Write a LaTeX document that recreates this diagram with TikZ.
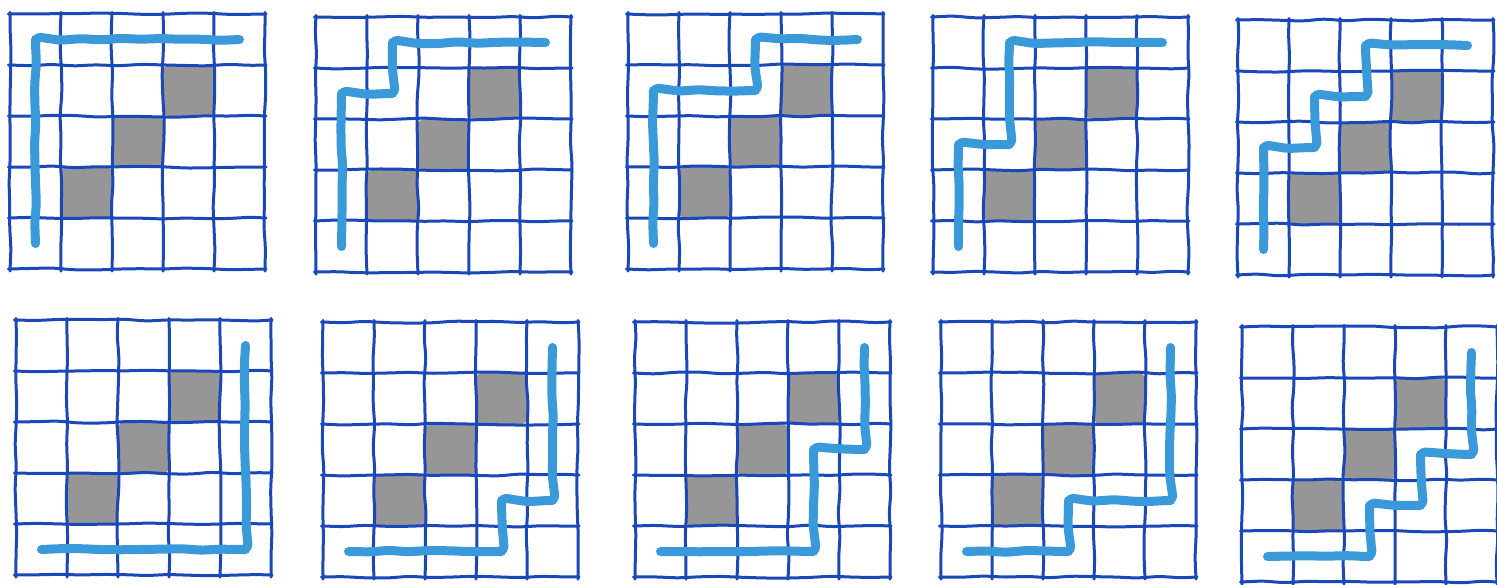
\documentclass[tikz,border=0pt]{standalone}
\usetikzlibrary{decorations.pathmorphing}

\definecolor{inkblue}{RGB}{26,72,184}
\definecolor{penblue}{RGB}{58,154,217}
\definecolor{blockgray}{RGB}{150,150,150}

% one 5x5 panel: bottom-left corner, then the route through the cells
\newcommand{\panel}[3]{%
  \begin{scope}[shift={(#1,#2)}, x=51pt, y=51pt]
    % blocked cells on the diagonal
    \foreach \c in {1,2,3}
      \fill[blocked] (\c,\c) rectangle (\c+1,\c+1);
    % grid lines
    \foreach \i in {0,...,5} {
      \draw[gridline] (\i,-0.04) -- (\i,5.03);
      \draw[gridline] (-0.03,\i) -- (5.02,\i);
    }
    % route
    \draw[route] #3;
  \end{scope}}

\begin{document}
\begin{tikzpicture}[x=1pt, y=-1pt,
    gridline/.style={inkblue, line width=3pt, line cap=round,
      decorate, decoration={random steps, segment length=22pt, amplitude=1.1pt},
      rounded corners=6pt},
    blocked/.style={blockgray, rounded corners=6pt},
    route/.style={penblue, line width=9pt, line cap=round, line join=round,
      decorate, decoration={random steps, segment length=20pt, amplitude=1.2pt},
      rounded corners=5pt}]
  \pgfmathsetseed{4711}
  \useasboundingbox (0,0) rectangle (1497,584);

  % top row
  \panel{10}{269}{(.5,.5) -- (.5,4.5) -- (4.5,4.5)}
  \panel{316}{272}{(.5,.5) -- (.5,3.5) -- (1.5,3.5) -- (1.5,4.5) -- (4.5,4.5)}
  \panel{628}{269}{(.5,.5) -- (.5,3.5) -- (2.5,3.5) -- (2.5,4.5) -- (4.5,4.5)}
  \panel{933}{272}{(.5,.5) -- (.5,2.5) -- (1.5,2.5) -- (1.5,4.5) -- (4.5,4.5)}
  \panel{1238}{275}{(.5,.5) -- (.5,2.5) -- (1.5,2.5) -- (1.5,3.5) -- (2.5,3.5) -- (2.5,4.5) -- (4.5,4.5)}

  % bottom row
  \panel{16}{575}{(.5,.5) -- (4.5,.5) -- (4.5,4.5)}
  \panel{323}{577}{(.5,.5) -- (3.5,.5) -- (3.5,1.5) -- (4.5,1.5) -- (4.5,4.5)}
  \panel{635}{577}{(.5,.5) -- (3.5,.5) -- (3.5,2.5) -- (4.5,2.5) -- (4.5,4.5)}
  \panel{941}{577}{(.5,.5) -- (2.5,.5) -- (2.5,1.5) -- (4.5,1.5) -- (4.5,4.5)}
  \panel{1242}{582}{(.5,.5) -- (2.5,.5) -- (2.5,1.5) -- (3.5,1.5) -- (3.5,2.5) -- (4.5,2.5) -- (4.5,4.5)}
\end{tikzpicture}
\end{document}
